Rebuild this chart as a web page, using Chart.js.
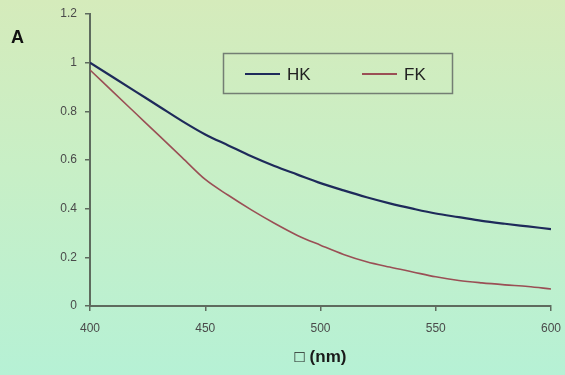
<!DOCTYPE html>
<html>
<head>
<meta charset="utf-8">
<script src="https://cdn.jsdelivr.net/npm/chart.js@4.4.0/dist/chart.umd.min.js"></script>
<style>
  html, body { margin: 0; padding: 0; }
  body {
    width: 565px; height: 375px;
    background: linear-gradient(to bottom, #d5ebbb 0%, #c8efc6 45%, #b6f1d5 100%);
  }
  #wrap { position: relative; width: 565px; height: 375px; }
</style>
</head>
<body>
<div id="wrap"><canvas id="chart" width="565" height="375"></canvas></div>
<script>
// wavelength (nm)
const wavelengths = [400, 410, 420, 430, 440, 450, 460, 470, 480, 490, 500,
                     510, 520, 530, 540, 550, 560, 570, 580, 590, 600];
const hkValues = [1.0, 0.94, 0.88, 0.82, 0.76, 0.705, 0.66, 0.615, 0.575, 0.54, 0.505,
                  0.475, 0.447, 0.422, 0.40, 0.38, 0.365, 0.35, 0.338, 0.327, 0.316];
const fkValues = [0.97, 0.88, 0.79, 0.70, 0.61, 0.52, 0.455, 0.395, 0.34, 0.29, 0.25,
                  0.212, 0.182, 0.16, 0.14, 0.12, 0.105, 0.095, 0.087, 0.08, 0.07];
const xTicks = [400, 450, 500, 550, 600];
const yTicks = [0, 0.2, 0.4, 0.6, 0.8, 1, 1.2];

const FONT = "'Liberation Sans', Arial, sans-serif";
const axisColor = '#5e6b5e';

// boxed legend inside the plot, like the excel one
const boxLegend = {
  id: 'boxLegend',
  afterDraw(chart) {
    const ctx = chart.ctx;
    ctx.save();
    ctx.strokeStyle = '#737e73';
    ctx.lineWidth = 1.5;
    ctx.strokeRect(223.5, 53.5, 229, 40);
    const items = [{ x: 245 }, { x: 362 }];
    chart.data.datasets.forEach((ds, i) => {
      const x = items[i].x;
      ctx.strokeStyle = ds.borderColor;
      ctx.lineWidth = 2;
      ctx.beginPath();
      ctx.moveTo(x, 74);
      ctx.lineTo(x + 35, 74);
      ctx.stroke();
      ctx.fillStyle = '#222';
      ctx.font = '17px ' + FONT;
      ctx.textBaseline = 'middle';
      ctx.fillText(ds.label, x + 42, 75);
    });
    // panel letter
    ctx.fillStyle = '#111';
    ctx.font = 'bold 18px ' + FONT;
    ctx.fillText('A', 11, 38);
    ctx.restore();
  }
};

new Chart(document.getElementById('chart').getContext('2d'), {
  type: 'line',
  data: {
    datasets: [{
      label: 'HK',
      data: wavelengths.map((w, i) => ({ x: w, y: hkValues[i] })),
      borderColor: '#1e2a5a',
      borderWidth: 2.2,
      pointRadius: 0,
      cubicInterpolationMode: 'monotone',
      fill: false
    }, {
      label: 'FK',
      data: wavelengths.map((w, i) => ({ x: w, y: fkValues[i] })),
      borderColor: '#9a4f55',
      borderWidth: 1.6,
      pointRadius: 0,
      cubicInterpolationMode: 'monotone',
      fill: false
    }]
  },
  options: {
    responsive: false,
    animation: false,
    layout: { padding: { left: 0, right: 14, top: 14, bottom: 0 } },
    plugins: { legend: { display: false }, tooltip: { enabled: false } },
    scales: {
      x: {
        type: 'linear',
        min: 400, max: 600,
        afterBuildTicks: s => { s.ticks = xTicks.map(v => ({ value: v })); },
        afterFit: s => { s.height = 69; s.paddingRight = 0; s.paddingLeft = 0; },
        grid: { drawOnChartArea: false, drawTicks: true, tickLength: 5, color: axisColor, lineWidth: 1.5 },
        border: { color: axisColor, width: 2 },
        ticks: { color: '#4a4a4a', font: { family: FONT, size: 12 }, padding: 10, maxRotation: 0 },
        title: {
          display: true, text: '\u25A1 (nm)', color: '#1a1a1a',
          font: { family: FONT, size: 17, weight: 'bold' }, padding: { top: 2, bottom: 7 }
        }
      },
      y: {
        min: 0, max: 1.2,
        afterBuildTicks: s => { s.ticks = yTicks.map(v => ({ value: v })); },
        afterFit: s => { s.width = 90; s.paddingTop = 0; s.paddingBottom = 0; },
        grid: { drawOnChartArea: false, drawTicks: true, tickLength: 5, color: axisColor, lineWidth: 1.5 },
        border: { color: axisColor, width: 2 },
        ticks: {
          color: '#4a4a4a', font: { family: FONT, size: 12 }, padding: 8,
          callback: v => String(Math.round(v * 10) / 10)
        }
      }
    }
  },
  plugins: [boxLegend]
});
</script>
</body>
</html>
